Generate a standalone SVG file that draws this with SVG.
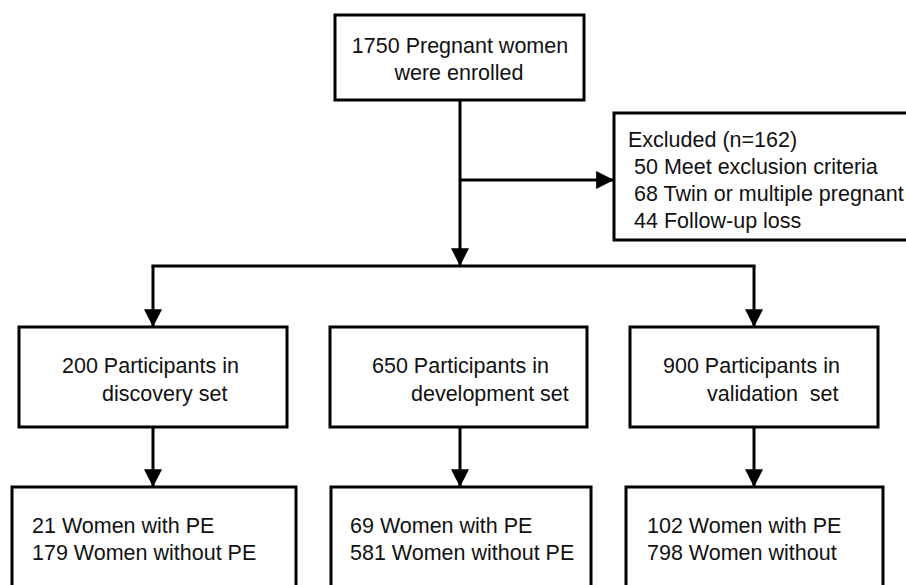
<svg xmlns="http://www.w3.org/2000/svg" width="906" height="585" viewBox="0 0 906 585">
<defs>
<style>
.box{fill:#fff;stroke:#000;stroke-width:3}
.ln{fill:none;stroke:#000;stroke-width:3}
text{font-family:"Liberation Sans",Arial,sans-serif;font-size:21.5px;fill:#111}
</style>
<marker id="ah" markerUnits="userSpaceOnUse" markerWidth="18" markerHeight="18" viewBox="0 0 16 16" refX="15" refY="8" orient="auto">
<path d="M0,0 L16,8 L0,16 z" fill="#000"/>
</marker>
</defs>
<rect width="906" height="585" fill="#fff"/>
<g id="connectors">
<line class="ln" x1="460" y1="100" x2="460" y2="265" marker-end="url(#ah)"/>
<line class="ln" x1="460" y1="180" x2="613" y2="180" marker-end="url(#ah)"/>
<line class="ln" x1="151.5" y1="266" x2="755.5" y2="266"/>
<line class="ln" x1="153" y1="266" x2="153" y2="326" marker-end="url(#ah)"/>
<line class="ln" x1="754" y1="266" x2="754" y2="326" marker-end="url(#ah)"/>
<line class="ln" x1="153" y1="427" x2="153" y2="486" marker-end="url(#ah)"/>
<line class="ln" x1="460" y1="427" x2="460" y2="486" marker-end="url(#ah)"/>
<line class="ln" x1="754" y1="427" x2="754" y2="486" marker-end="url(#ah)"/>
</g>
<g id="enrolled">
<rect class="box" x="335" y="15" width="249" height="85"/>
<text x="460" y="53" text-anchor="middle">1750 Pregnant women</text>
<text x="459" y="80" text-anchor="middle">were enrolled</text>
</g>
<g id="excluded">
<rect class="box" x="614" y="113" width="300" height="127"/>
<text x="628" y="147">Excluded (n=162)</text>
<text x="634" y="174">50 Meet exclusion criteria</text>
<text x="634" y="201">68 Twin or multiple pregnant</text>
<text x="634" y="228">44 Follow-up loss</text>
</g>
<g id="discovery">
<rect class="box" x="19" y="327" width="268" height="100"/>
<text x="62" y="373">200 Participants in</text>
<text x="102" y="401">discovery set</text>
</g>
<g id="development">
<rect class="box" x="330" y="327" width="257" height="100"/>
<text x="372" y="373">650 Participants in</text>
<text x="411" y="401">development set</text>
</g>
<g id="validation">
<rect class="box" x="630" y="327" width="248" height="100"/>
<text x="663" y="373">900 Participants in</text>
<text x="707" y="401" xml:space="preserve">validation  set</text>
</g>
<g id="discovery-outcome">
<rect class="box" x="12" y="487" width="284" height="120"/>
<text x="32" y="533">21 Women with PE</text>
<text x="32" y="560">179 Women without PE</text>
</g>
<g id="development-outcome">
<rect class="box" x="331" y="487" width="260" height="120"/>
<text x="350" y="533">69 Women with PE</text>
<text x="350" y="560">581 Women without PE</text>
</g>
<g id="validation-outcome">
<rect class="box" x="626" y="487" width="257" height="120"/>
<text x="647" y="533">102 Women with PE</text>
<text x="647" y="560">798 Women without</text>
</g>
</svg>
